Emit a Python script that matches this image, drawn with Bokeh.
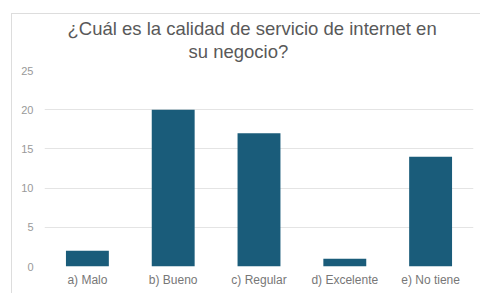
from bokeh.plotting import figure
from bokeh.layouts import column
from bokeh.embed import file_html
from bokeh.resources import INLINE
from bokeh.models import ColumnDataSource, Range1d, FixedTicker, Title

categories = ["a) Malo", "b) Bueno", "c) Regular", "d) Excelente", "e) No tiene"]
counts = [2, 20, 17, 1, 14]
y_ticks = [0, 5, 10, 15, 20, 25]
title_line1 = "¿Cuál es la calidad de servicio de internet en"
title_line2 = "su negocio?"

source = ColumnDataSource(data=dict(cat=categories, val=counts))

p = figure(x_range=categories, y_range=Range1d(0, 25),
           width=468, height=279, output_backend="svg", toolbar_location=None,
           min_border_left=32, min_border_right=7, min_border_top=56, min_border_bottom=27)

p.vbar(x="cat", top="val", width=0.5, source=source, color="#1a5c7a", line_color=None)

font_kw = dict(text_font="Liberation Sans", text_font_size="18.5px",
               text_font_style="normal", text_color="#595959")

p.title.text = title_line1
p.title.align = "left"
p.title.offset = 23
p.title.standoff = 0
for k, v in font_kw.items():
    setattr(p.title, k, v)

spacer = Title(text=" ", text_font_size="1px", standoff=6)
p.add_layout(spacer, "above")

t2 = Title(text=title_line2, align="left", offset=144, standoff=0, **font_kw)
p.add_layout(t2, "above")

p.outline_line_color = None
p.background_fill_color = "white"
p.border_fill_color = "white"
p.xgrid.grid_line_color = None
p.ygrid.grid_line_color = "#e4e4e4"
p.ygrid.ticker = FixedTicker(ticks=y_ticks)
p.x_range.range_padding = 0

p.yaxis.ticker = FixedTicker(ticks=y_ticks)
p.yaxis.axis_line_color = None
p.yaxis.major_tick_line_color = None
p.yaxis.major_tick_out = 0
p.yaxis.major_tick_in = 0
p.yaxis.minor_tick_line_color = None
p.yaxis.major_label_text_font = "Liberation Sans"
p.yaxis.major_label_text_font_size = "11px"
p.yaxis.major_label_text_color = "#999999"
p.yaxis.major_label_standoff = 11

p.xaxis.axis_line_color = None
p.xaxis.major_tick_line_color = None
p.xaxis.major_tick_out = 0
p.xaxis.major_tick_in = 0
p.xaxis.major_label_text_font = "Liberation Sans"
p.xaxis.major_label_text_font_size = "12px"
p.xaxis.major_label_text_color = "#777777"
p.xaxis.major_label_standoff = 6

layout = column(p, styles={"margin-left": "11px", "margin-top": "13px",
                           "border-left": "1px solid #dddddd",
                           "border-top": "1px solid #dddddd"})

open("out.html", "w").write(file_html(layout, INLINE))
